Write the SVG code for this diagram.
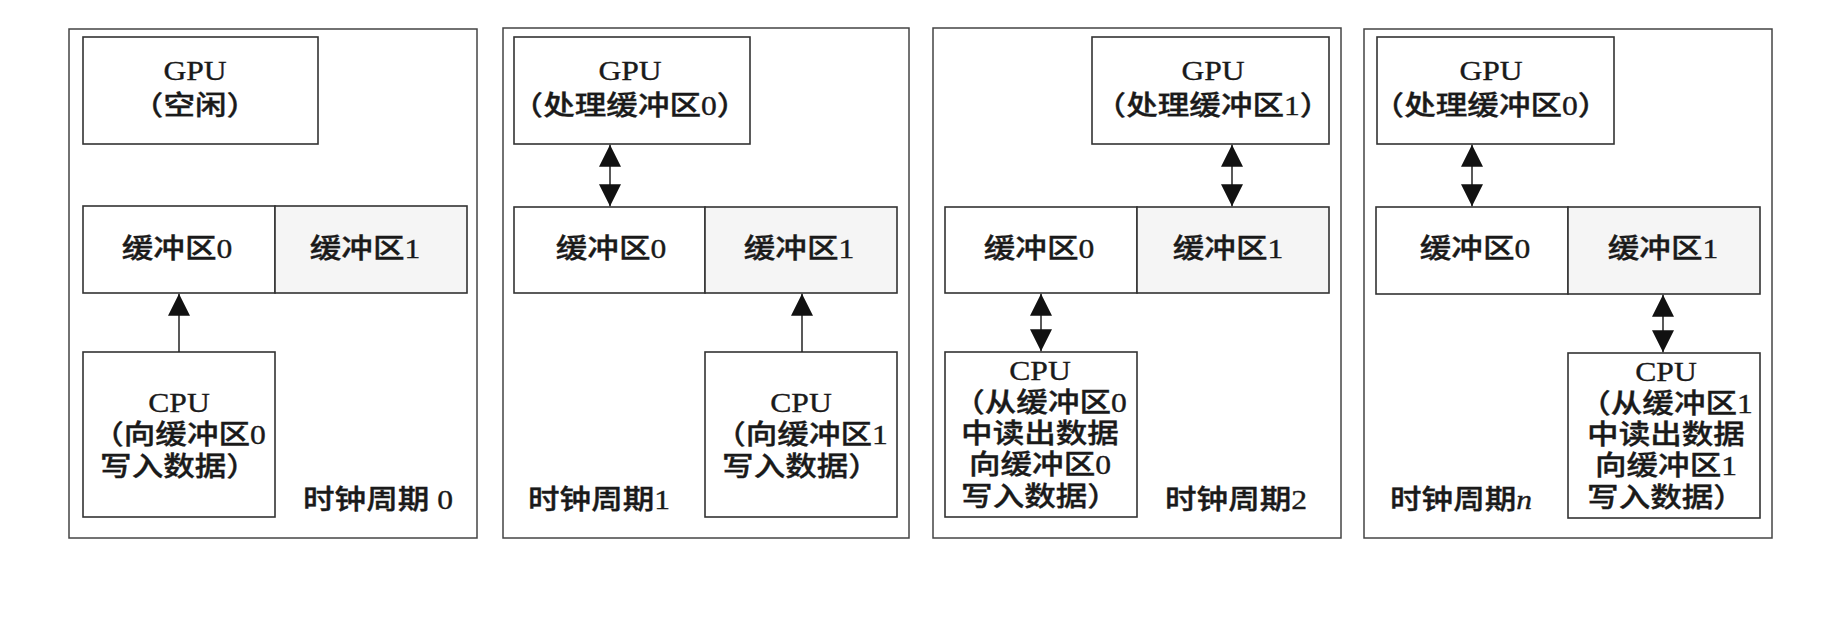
<svg xmlns="http://www.w3.org/2000/svg" width="1832" height="635" viewBox="0 0 1832 635">
<style>
.frame{fill:none;stroke:#444;stroke-width:1.5}
.box{fill:#fff;stroke:#333;stroke-width:1.6}
.buf1{fill:#f5f5f5;stroke:#333;stroke-width:1.6}
.t{font-family:"Liberation Serif","Noto Sans CJK SC",serif;font-size:27px;fill:#1a1a1a;font-weight:500;stroke:#1a1a1a;stroke-width:0.35}
.c{text-anchor:middle}
.link{stroke:#222;stroke-width:1.5;fill:none}
.one{marker-end:url(#ah)}
.two{marker-start:url(#ah);marker-end:url(#ah)}
</style>
<defs>
<marker id="ah" viewBox="0 0 22 22" refX="22" refY="11" markerWidth="22" markerHeight="22" markerUnits="userSpaceOnUse" orient="auto-start-reverse">
<path d="M0,0 L22,11 L0,22 z" fill="#111"/>
</marker>
</defs>
<rect width="1832" height="635" fill="#fff"/>

<!-- Panel 1 -->
<g id="panel0">
<rect class="frame" x="69" y="29" width="408" height="509"/>
<text class="t" transform="translate(303 509) scale(1.17 1)">时钟周期 0</text>
</g>
<g id="gpu0">
<rect class="box" x="83" y="37" width="235" height="107"/>
<text class="t c" transform="translate(195 80) scale(1.17 1)"><tspan x="0" y="0">GPU</tspan><tspan x="0" y="35">（空闲）</tspan></text>
</g>
<g id="buf0-0">
<rect class="box" x="83" y="206" width="192" height="87"/>
<text class="t c" transform="translate(177 258) scale(1.17 1)">缓冲区0</text>
</g>
<g id="buf0-1">
<rect class="buf1" x="275" y="206" width="192" height="87"/>
<text class="t c" transform="translate(365 258) scale(1.17 1)">缓冲区1</text>
</g>
<g id="cpu0">
<rect class="box" x="83" y="352" width="192" height="165"/>
<text class="t c" transform="translate(179 412) scale(1.17 1)"><tspan x="0" y="0">CPU</tspan><tspan x="0" y="32">（向缓冲区0</tspan><tspan x="0" y="64">写入数据）</tspan></text>
</g>

<!-- Panel 2 -->
<g id="panel1">
<rect class="frame" x="503" y="28" width="406" height="510"/>
<text class="t" transform="translate(528 509) scale(1.17 1)">时钟周期1</text>
</g>
<g id="gpu1">
<rect class="box" x="514" y="37" width="236" height="107"/>
<text class="t c" transform="translate(630 80) scale(1.17 1)"><tspan x="0" y="0">GPU</tspan><tspan x="0" y="35">（处理缓冲区0）</tspan></text>
</g>
<g id="buf1-0">
<rect class="box" x="514" y="207" width="191" height="86"/>
<text class="t c" transform="translate(611 258) scale(1.17 1)">缓冲区0</text>
</g>
<g id="buf1-1">
<rect class="buf1" x="705" y="207" width="192" height="86"/>
<text class="t c" transform="translate(799 258) scale(1.17 1)">缓冲区1</text>
</g>
<g id="cpu1">
<rect class="box" x="705" y="352" width="192" height="165"/>
<text class="t c" transform="translate(801 412) scale(1.17 1)"><tspan x="0" y="0">CPU</tspan><tspan x="0" y="32">（向缓冲区1</tspan><tspan x="0" y="64">写入数据）</tspan></text>
</g>

<!-- Panel 3 -->
<g id="panel2">
<rect class="frame" x="933" y="28" width="408" height="510"/>
<text class="t" transform="translate(1165 509) scale(1.17 1)">时钟周期2</text>
</g>
<g id="gpu2">
<rect class="box" x="1092" y="37" width="237" height="107"/>
<text class="t c" transform="translate(1213 80) scale(1.17 1)"><tspan x="0" y="0">GPU</tspan><tspan x="0" y="35">（处理缓冲区1）</tspan></text>
</g>
<g id="buf2-0">
<rect class="box" x="945" y="207" width="192" height="86"/>
<text class="t c" transform="translate(1039 258) scale(1.17 1)">缓冲区0</text>
</g>
<g id="buf2-1">
<rect class="buf1" x="1137" y="207" width="192" height="86"/>
<text class="t c" transform="translate(1228 258) scale(1.17 1)">缓冲区1</text>
</g>
<g id="cpu2">
<rect class="box" x="945" y="352" width="192" height="165"/>
<text class="t c" transform="translate(1040 380) scale(1.17 1)"><tspan x="0" y="0">CPU</tspan><tspan x="0" y="32">（从缓冲区0</tspan><tspan x="0" y="63">中读出数据</tspan><tspan x="0" y="94">向缓冲区0</tspan><tspan x="0" y="126">写入数据）</tspan></text>
</g>

<!-- Panel 4 -->
<g id="panel3">
<rect class="frame" x="1364" y="29" width="408" height="509"/>
<text class="t" transform="translate(1390 509) scale(1.17 1)">时钟周期<tspan font-style="italic">n</tspan></text>
</g>
<g id="gpu3">
<rect class="box" x="1377" y="37" width="237" height="107"/>
<text class="t c" transform="translate(1491 80) scale(1.17 1)"><tspan x="0" y="0">GPU</tspan><tspan x="0" y="35">（处理缓冲区0）</tspan></text>
</g>
<g id="buf3-0">
<rect class="box" x="1376" y="207" width="192" height="87"/>
<text class="t c" transform="translate(1475 258) scale(1.17 1)">缓冲区0</text>
</g>
<g id="buf3-1">
<rect class="buf1" x="1568" y="207" width="192" height="87"/>
<text class="t c" transform="translate(1663 258) scale(1.17 1)">缓冲区1</text>
</g>
<g id="cpu3">
<rect class="box" x="1568" y="353" width="192" height="165"/>
<text class="t c" transform="translate(1666 381) scale(1.17 1)"><tspan x="0" y="0">CPU</tspan><tspan x="0" y="32">（从缓冲区1</tspan><tspan x="0" y="63">中读出数据</tspan><tspan x="0" y="94">向缓冲区1</tspan><tspan x="0" y="126">写入数据）</tspan></text>
</g>

<g id="connectors">
<line class="link one" x1="179" y1="352" x2="179" y2="293.8"/>
<line class="link two" x1="610" y1="144.8" x2="610" y2="206.2"/>
<line class="link one" x1="802" y1="352" x2="802" y2="293.8"/>
<line class="link two" x1="1232" y1="144.8" x2="1232" y2="206.2"/>
<line class="link two" x1="1041" y1="293.8" x2="1041" y2="351.2"/>
<line class="link two" x1="1472" y1="144.8" x2="1472" y2="206.2"/>
<line class="link two" x1="1663" y1="294.8" x2="1663" y2="352.2"/>
</g>
</svg>
